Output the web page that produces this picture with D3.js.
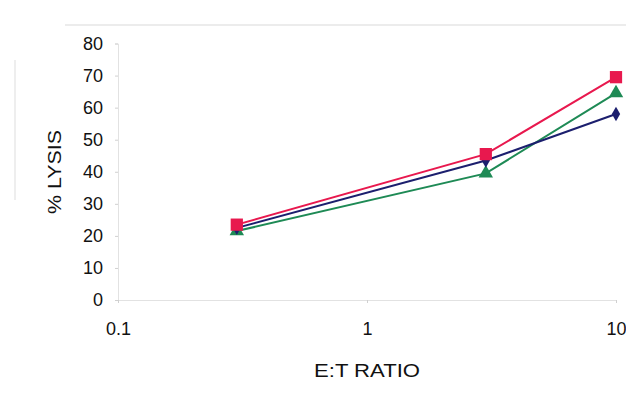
<!DOCTYPE html>
<html><head><meta charset="utf-8">
<script src="https://cdn.jsdelivr.net/npm/d3@7/dist/d3.min.js"></script>
<style>body{margin:0;background:#fff}svg{display:block}text{font-family:"Liberation Sans",Arial,sans-serif;fill:#111}</style>
</head><body>
<svg id="c" width="626" height="409"></svg>
<script>
const ratios = [0.3, 3, 10];
const seriesBlue = [22.5, 43.5, 58];
const seriesRed = [23.5, 45.5, 69.5];
const seriesGreen = [21.5, 39.5, 64.5];
const yTicks = [0, 10, 20, 30, 40, 50, 60, 70, 80];
const xTicks = [0.1, 1, 10];

const svg = d3.select("#c");
const x = d3.scaleLog().domain([0.1, 10]).range([118, 616]);
const y = d3.scaleLinear().domain([0, 80]).range([300, 43.5]);

// faint frame
svg.append("line").attr("x1", 65).attr("x2", 626).attr("y1", 25).attr("y2", 25).attr("stroke", "#e6e6e6").attr("stroke-width", 1.5);
svg.append("line").attr("x1", 15).attr("x2", 15).attr("y1", 60).attr("y2", 200).attr("stroke", "#e8e8e8").attr("stroke-width", 1.5);

// axes
const yAxis = d3.axisLeft(y).tickValues(yTicks).tickSize(3).tickPadding(12);
const gy = svg.append("g").attr("transform", "translate(118,0)").call(yAxis);
gy.select(".domain").attr("stroke", "#e2e2e2");
gy.selectAll(".tick line").attr("stroke", "#d0d0d0");
gy.selectAll("text").style("font-size", "18px").attr("fill", "#111");

const xAxis = d3.axisBottom(x).tickValues(xTicks).tickFormat(d => d3.format("")(d)).tickSize(3).tickPadding(19);
const gx = svg.append("g").attr("transform", "translate(0,300)").call(xAxis);
gx.select(".domain").attr("stroke", "#e2e2e2");
gx.selectAll(".tick line").attr("stroke", "#d0d0d0");
gx.selectAll("text").style("font-size", "18px").attr("fill", "#111");

svg.append("text").attr("x", 367).attr("y", 377).attr("text-anchor", "middle").style("font-size", "18px")
  .attr("textLength", 106).attr("lengthAdjust", "spacingAndGlyphs").text("E:T RATIO");
svg.append("text").attr("transform", "translate(61,172) rotate(-90)").attr("text-anchor", "middle").style("font-size", "18px")
  .attr("textLength", 84).attr("lengthAdjust", "spacingAndGlyphs").text("% LYSIS");

const series = [
  {vals: seriesGreen, color: "#1e8a55", sym: d3.symbolTriangle, size: 90},
  {vals: seriesBlue, color: "#1c1f6e", sym: d3.symbolDiamond, size: 60},
  {vals: seriesRed, color: "#e8184e", sym: d3.symbolSquare, size: 150}
];
const line = d3.line().x((d, i) => x(ratios[i])).y(d => y(d));
series.forEach(s => {
  svg.append("path").datum(s.vals).attr("d", line).attr("fill", "none").attr("stroke", s.color).attr("stroke-width", 2);
});
series.forEach(s => {
  svg.selectAll(null).data(s.vals).enter().append("path")
    .attr("d", d3.symbol().type(s.sym).size(s.size))
    .attr("transform", (d, i) => `translate(${x(ratios[i])},${y(d)})`)
    .attr("fill", s.color);
});
</script>
</body></html>
